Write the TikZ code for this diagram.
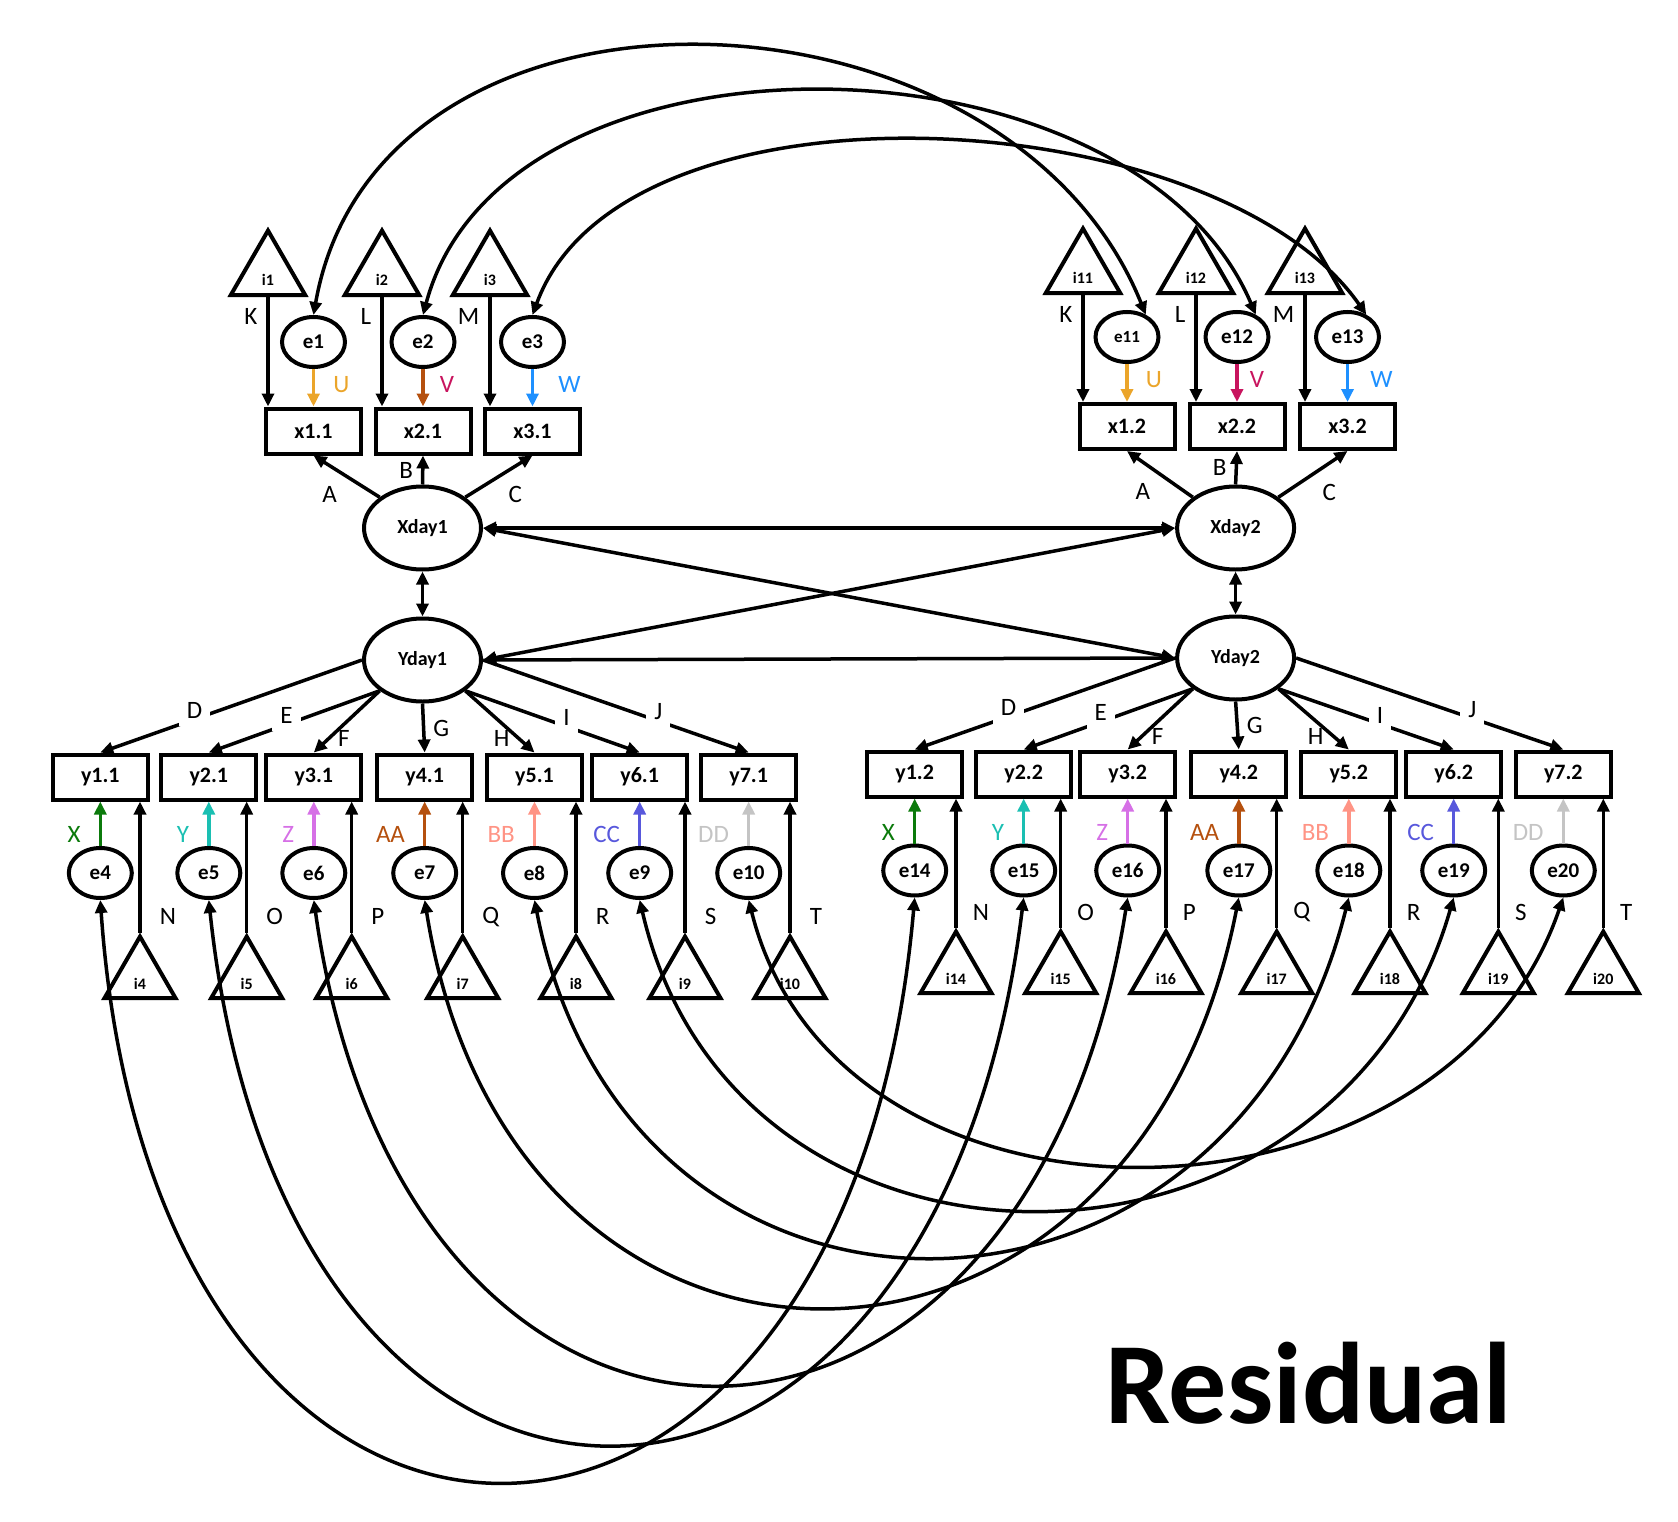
\documentclass[tikz,border=0pt]{standalone}
\usepackage{fontspec}
\setmainfont{Carlito}
\usetikzlibrary{arrows.meta,shapes.geometric}

\definecolor{cU}{HTML}{EBA52A}
\definecolor{cV}{HTML}{C8145E}
\definecolor{cW}{HTML}{1E90FF}
\definecolor{cX}{HTML}{0B7A0B}
\definecolor{cY}{HTML}{1ABFB2}
\definecolor{cZ}{HTML}{D670E6}
\definecolor{cAA}{HTML}{B5500E}
\definecolor{cBB}{HTML}{FF9485}
\definecolor{cCC}{HTML}{5858DC}
\definecolor{cDD}{HTML}{C4C4C4}

\begin{document}
\begin{tikzpicture}
  [x=1pt, y=-1pt,
   every node/.style={font=\fontsize{25}{29}\selectfont, inner sep=8pt},
   obs/.style={draw, rectangle, line width=4pt, minimum width=95pt, minimum height=45pt,
     inner sep=0pt, font=\fontsize{22}{26}\selectfont\bfseries},
   lat/.style={draw, ellipse, line width=4pt, minimum width=117pt, minimum height=83pt,
     inner sep=0pt, font=\fontsize{20}{24}\selectfont\bfseries},
   err/.style={draw, ellipse, line width=4pt, minimum width=63pt, minimum height=50pt,
     inner sep=0pt, font=\fontsize{21}{24}\selectfont\bfseries},
   icpt/.style={draw, regular polygon, regular polygon sides=3, line width=4pt,
     inner sep=0pt, text height=24pt, text depth=0pt, font=\fontsize{16}{18}\selectfont\bfseries},
   arr/.style={line width=3.5pt, -{Triangle[length=13pt,width=12pt]}},
   dbl/.style={line width=3.5pt, {Triangle[length=13pt,width=12pt]}-{Triangle[length=13pt,width=12pt]}},
   onl/.style={fill=white, yshift=9pt}]

  \useasboundingbox (0,0) rectangle (1678,1522);

  % latent factors
  \node[lat] (Xday1) at (422.5,528) {Xday1};
  \node[lat] (Yday1) at (422.5,660) {Yday1};
  \node[lat] (Xday2) at (1235.6,528) {Xday2};
  \node[lat] (Yday2) at (1235.6,658) {Yday2};

  % X indicators, day 1
  \foreach \n/\x/\tx/\il/\pl/\ac/\lc/\s in
     {1/313.5/268/K/U/cU/cU/10pt, 2/423/382/L/V/cAA/cV/7pt, 3/532.5/490/M/W/cW/cW/16pt}
  {
    \node[obs] (x\n1) at (\x,431) {x\n.1};
    \node[err] (e\n) at (\x,342) {e\n};
    \node[icpt, minimum size=86pt] (i\n) at (\tx,273.6) {i\n};
    \draw[arr] (i\n.south) -- node[pos=.18,left=1pt]{\il} (i\n.south |- x\n1.north);
    \draw[arr,draw=\ac] (e\n) -- node[pos=.42,right=\s,text=\lc]{\pl} (x\n1);
  }

  % X indicators, day 2
  \foreach \n/\x/\tx/\en/\fs/\il/\pl/\ac/\s in
     {1/1127/1083/11/17/K/U/cU/9pt, 2/1237/1196/12/21/L/V/cV/3pt, 3/1347.5/1305/13/21/M/W/cW/13pt}
  {
    \node[obs] (x\n2) at (\x,426.5) {x\n.2};
    \node[err, font=\fontsize{\fs}{24}\selectfont\bfseries] (e\en) at (\x,337) {e\en};
    \node[icpt, minimum size=86pt] (i\en) at (\tx,271.6) {i\en};
    \draw[arr] (i\en.south) -- node[pos=.18,left=1pt]{\il} (i\en.south |- x\n2.north);
    \draw[arr,draw=\ac] (e\en) -- node[pos=.42,right=\s,text=\ac]{\pl} (x\n2);
  }

  % Y indicators, day 1
  \foreach \n/\x/\tx/\lab/\il/\col in
    {1/100.3/140/X/N/cX, 2/208.8/246.7/Y/O/cY, 3/313.8/351.7/Z/P/cZ, 4/424.7/462.7/AA/Q/cAA,
     5/534.5/576/BB/R/cBB, 6/639.7/685/CC/S/cCC, 7/748.7/790/DD/T/cDD}
  {
    \pgfmathtruncatemacro\en{\n+3}
    \node[obs] (y\n1) at (\x,777) {y\n.1};
    \node[err] (e\en) at (\x,873) {e\en};
    \node[icpt, minimum size=82pt] (i\en) at (\tx,977.6) {i\en};
    \draw[arr] (i\en.north) -- node[pos=.12,right=10pt]{\il} (i\en.north |- y\n1.south);
    \draw[arr,draw=\col] (e\en) -- node[pos=.25,left=10pt,text=\col]{\lab} (y\n1);
  }

  % Y indicators, day 2
  \foreach \n/\x/\tx/\lab/\il/\col in
    {1/914.7/956/X/N/cX, 2/1023.7/1060.7/Y/O/cY, 3/1127.7/1166/Z/P/cZ, 4/1238.8/1276.7/AA/Q/cAA,
     5/1348.8/1390/BB/R/cBB, 6/1453.7/1498.3/CC/S/cCC, 7/1563.3/1603.3/DD/T/cDD}
  {
    \pgfmathtruncatemacro\en{\n+13}
    \node[obs] (y\n2) at (\x,774) {y\n.2};
    \node[err] (e\en) at (\x,870.5) {e\en};
    \node[icpt, minimum size=82pt] (i\en) at (\tx,972.6) {i\en};
    \draw[arr] (i\en.north) -- node[pos=.12,right=7pt]{\il} (i\en.north |- y\n2.south);
    \draw[arr,draw=\col] (e\en) -- node[pos=.25,left=10pt,text=\col]{\lab} (y\n2);
  }

  % loadings
  \foreach \dy in {1,2}
  {
    \draw[arr] (Xday\dy.north west) -- node[midway,below left]{A} (x1\dy.south);
    \draw[arr] (Xday\dy.north) -- node[midway,left]{B} (x2\dy.south);
    \draw[arr] (Xday\dy.north east) -- node[midway,below right]{C} (x3\dy.south);
    \draw[arr] (Yday\dy.west) -- node[pos=.64,onl]{D} (y1\dy.north);
    \draw[arr] (Yday\dy.south west) -- node[pos=.545,onl]{E} (y2\dy.north);
    \draw[arr] (Yday\dy.south west) -- node[pos=.78,right]{F} (y3\dy.north);
    \draw[arr] (Yday\dy.south) -- node[pos=.5,right]{G} (y4\dy.north);
    \draw[arr] (Yday\dy.south east) -- node[pos=.78,left]{H} (y5\dy.north);
    \draw[arr] (Yday\dy.south east) -- node[pos=.58,onl]{I} (y6\dy.north);
    \draw[arr] (Yday\dy.east) -- node[pos=.66,onl]{J} (y7\dy.north);
    \draw[dbl] (Xday\dy) -- (Yday\dy);
  }

  % covariances between factors
  \draw[dbl] (Xday1.east) -- (Xday2.west);
  \draw[dbl] (Yday1.east) -- (Yday2.west);
  \draw[dbl] (Xday1.east) -- (Yday2.west);
  \draw[dbl] (Yday1.east) -- (Xday2.west);

  % residual covariances
  \draw[dbl] (e1.north) to[out=80,in=112,looseness=1.15] (e11.50);
  \draw[dbl] (e2.north) to[out=75,in=113,looseness=.97] (e12.50);
  \draw[dbl] (e3.north) to[out=70,in=125,looseness=.81] (e13.50);
  \foreach \ea/\ou/\inn/\loo in
    {4/-86/-95/2.44, 5/-84/-97/2.29, 6/-82/-99/2.05, 7/-81/-101/1.73,
     8/-79/-104/1.53, 9/-77/-106/1.34, 10/-76/-109/1.16}
  {
    \pgfmathtruncatemacro\eb{\ea+10}
    \draw[dbl] (e\ea.south) to[out=\ou,in=\inn,looseness=\loo] (e\eb.south);
  }

  \node[font=\fontsize{116}{120}\selectfont\bfseries, inner sep=0pt, anchor=base west]
    (title) at (1105,1423) {Residual};
\end{tikzpicture}
\end{document}
